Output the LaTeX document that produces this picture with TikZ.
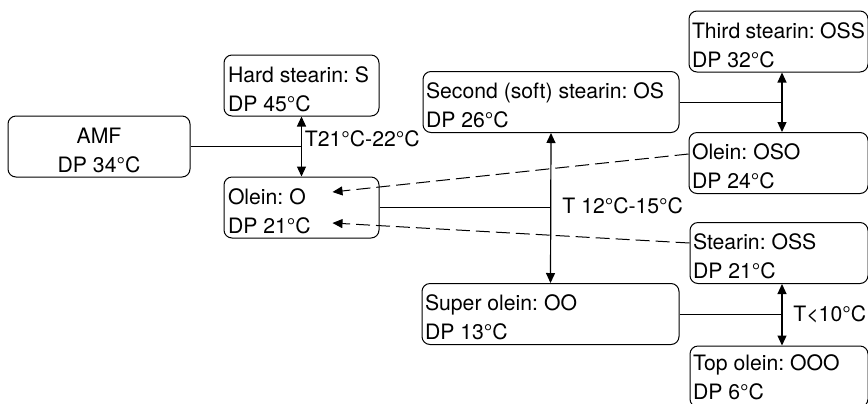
\documentclass[tikz,border=0pt]{standalone}
\usepackage{fontspec}
\setmainfont{TeX Gyre Heros}
\usepackage{tikz}
\usetikzlibrary{arrows.meta}
\newcommand{\boxfont}{\fontsize{10.6}{14.5}\selectfont\frenchspacing}
\tikzset{
  box/.style={draw, line width=.5pt, rounded corners=4pt, inner xsep=1.5pt, inner ysep=0pt,
    minimum height=30.5pt, text width=#1, align=flush left, text height=11pt, text depth=14.5pt,
    font=\boxfont},
  dbl/.style={line width=.6pt, {Triangle[length=5pt,width=4.5pt]}-{Triangle[length=5pt,width=4.5pt]}},
  back/.style={line width=.5pt, dash pattern=on 7pt off 3pt, -{Triangle[length=5pt,width=4.5pt]}},
  lbl/.style={font=\boxfont, inner sep=0pt, anchor=base west}
}

\begin{document}
\begin{tikzpicture}[x=.5pt, y=-.5pt]
\useasboundingbox (0,0) rectangle (868,403);
% first step
\node[box=88pt, align=flush center] (amf) at (99,146.5) {AMF\\DP 34°C};
\node[box=74.5pt] (hard) at (301.5,85.5) {\hspace{.5pt}Hard stearin: S\\\hspace{.5pt}DP 45°C};
\node[box=74.5pt] (olein) at (301.5,207.5) {\hspace{.5pt}Olein: O\\\hspace{.5pt}DP 21°C};
% second step
\node[box=125pt] (second) at (551,102) {Second (soft) stearin: OS\\DP 26°C};
\node[box=125.5pt] (super) at (550.5,314) {Super olein: OO\\DP 13°C};
% third step
\node[box=86.5pt] (third) at (778.5,41.5) {Third stearin: OSS\\DP 32°C};
\node[box=86.5pt] (oso) at (778.5,163) {Olein: OSO\\DP 24°C};
\node[box=86pt] (soss) at (779,253) {Stearin: OSS\\DP 21°C};
\node[box=86pt, text height=8pt] (top) at (779,376.5) {Top olein: OOO\\DP 6°C};

\coordinate (j1) at (hard.south |- amf.east);
\coordinate (j2) at (olein.east -| second.south);
\coordinate (j3) at ([xshift=1.75pt]third.south |- second.east);
\coordinate (j4) at ([xshift=1.5pt]soss.south |- super.east);

\draw[line width=.5pt] (amf.east) -- (j1);
\draw[dbl] (hard.south) -- (olein.north);
\node[lbl] (t1) at ([xshift=1.5pt]j1) {T21°C-22°C};

\draw[line width=.5pt] (olein.east) -- (j2);
\draw[dbl] (second.south) -- (super.north);
\node[lbl] (t2) at ([xshift=5.5pt,yshift=-2.75pt]j2) {T 12°C-15°C};

\draw[line width=.5pt] (second.east) -- (j3);
\draw[dbl] (j3 |- third.south) -- (j3 |- oso.north);

\draw[line width=.5pt] (super.east) -- (j4);
\draw[dbl] (j4 |- soss.south) -- (j4 |- top.north);
\node[lbl] (t3) at ([xshift=5.5pt,yshift=-3.5pt]j4) {T<10°C};

\draw[back] ([yshift=4.5pt]oso.west) -- ([xshift=54.5pt,yshift=7.75pt]olein.west);
\draw[back] ([yshift=5pt]soss.west) -- ([xshift=54.5pt,yshift=-7.75pt]olein.west);
\end{tikzpicture}
\end{document}
